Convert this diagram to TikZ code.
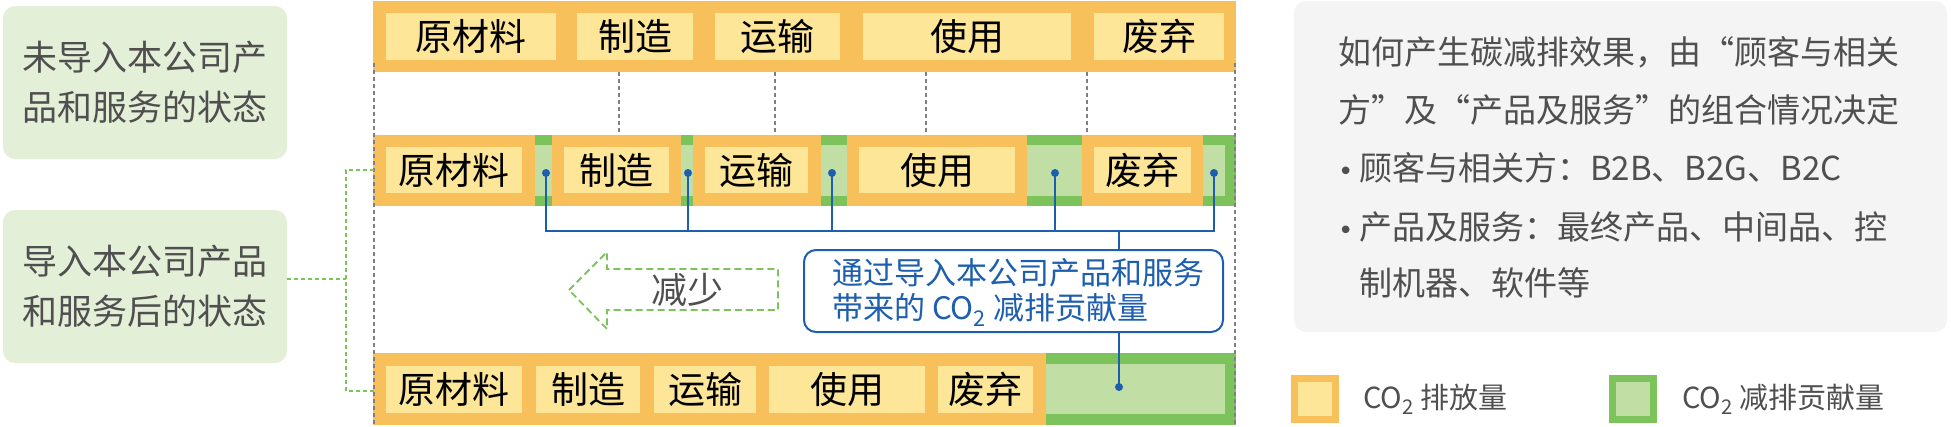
\documentclass[tikz,border=0pt]{standalone}
\usepackage{fontspec}
\setmainfont{Noto Sans CJK SC}
\newfontfamily\dvfont{DejaVu Sans}
\definecolor{barorange}{HTML}{F8C05A}
\definecolor{baryellow}{HTML}{FDE697}
\definecolor{dgreen}{HTML}{7DC35B}
\definecolor{lgreen}{HTML}{C1DEA5}
\definecolor{boxgreen}{HTML}{E4EFD8}
\definecolor{boxgray}{HTML}{F4F4F4}
\definecolor{cblue}{HTML}{1D5FAE}
\definecolor{tgray}{HTML}{4F4F4F}
\definecolor{dgray}{HTML}{808080}
\tikzset{
  ybox/.style={fill=baryellow, inner sep=0pt, outer sep=0pt, font=\fontsize{37}{40}\selectfont, text=black},
  dotnode/.style={circle, fill=cblue, inner sep=0pt, minimum size=8pt},
  bline/.style={draw=cblue, line width=2.2pt},
  callout/.style={draw=cblue, line width=2pt, rounded corners=12pt, fill=white, inner sep=0pt},
  ctext/.style={text=cblue, font=\fontsize{31}{35}\selectfont, align=left, inner sep=0pt},
  gdash/.style={draw=dgray, line width=1.3pt, dash pattern=on 4pt off 3pt},
  gcon/.style={draw=dgreen, line width=1.3pt, dash pattern=on 4pt off 3pt},
  garrow/.style={draw=dgreen, line width=1.8pt, dash pattern=on 7pt off 4pt},
  lbox/.style={fill=boxgreen, rounded corners=12pt, inner sep=0pt, text=tgray, font=\fontsize{35}{50}\selectfont, align=left},
  rbox/.style={fill=boxgray, rounded corners=12pt, inner sep=0pt},
  rtext/.style={text=tgray, font=\fontsize{33}{40}\selectfont, inner sep=0pt, anchor=west},
  legsq/.style={line width=7pt, minimum size=41pt, inner sep=0pt},
  legt/.style={text=tgray, font=\fontsize{29}{34}\selectfont, inner sep=0pt, anchor=west},
}
\newcommand\seg[6]{\node[ybox, minimum width={(#4)-(#2)}, minimum height={(#5)-(#3)}] (#1) at ({((#2)+(#4))/2},{((#3)+(#5))/2}) {#6};}
\newcommand\mybul{\makebox[21pt][l]{{\dvfont\fontsize{26}{30}\selectfont •}}}
\begin{document}
\begin{tikzpicture}[x=1pt,y=-1pt]
\useasboundingbox (0,0) rectangle (1951,426);
% left boxes
\node[lbox, minimum width=284pt, minimum height=153pt] (L1) at (145,82.5) {未导入本公司产\\品和服务的状态};
\node[lbox, minimum width=284pt, minimum height=153pt] (L2) at (145,286.5) {导入本公司产品\\和服务后的状态};
% top bar
\fill[barorange] (373,1) rectangle (1236,72);
\seg{t1}{386}{13}{556}{60}{原材料}
\seg{t2}{577}{13}{693}{60}{制造}
\seg{t3}{715}{13}{840}{60}{运输}
\seg{t4}{863}{13}{1071}{60}{使用}
\seg{t5}{1094}{13}{1224}{60}{废弃}
% middle bar
\fill[dgreen] (373,135) rectangle (1236,206);
\fill[lgreen] (373,145) rectangle (1225,196);
\fill[barorange] (373,135) rectangle (535,206);
\fill[barorange] (552,135) rectangle (681,206);
\fill[barorange] (693,135) rectangle (821,206);
\fill[barorange] (847,135) rectangle (1027,206);
\fill[barorange] (1082,135) rectangle (1203,206);
\seg{m1}{386}{147}{522}{193}{原材料}
\seg{m2}{564}{147}{669}{193}{制造}
\seg{m3}{705}{147}{808}{193}{运输}
\seg{m4}{859}{147}{1015}{193}{使用}
\seg{m5}{1094}{147}{1191}{193}{废弃}
% bottom bar
\fill[barorange] (373,353) rectangle (1046,425);
\fill[dgreen] (1046,353) rectangle (1236,425);
\fill[lgreen] (1046,364) rectangle (1225,414);
\seg{b1}{386}{366}{522}{413}{原材料}
\seg{b2}{536}{366}{640}{413}{制造}
\seg{b3}{654}{366}{756}{413}{运输}
\seg{b4}{769}{366}{925}{413}{使用}
\seg{b5}{938}{366}{1033}{413}{废弃}
% gray dashed guides
\draw[gdash] (374,63) -- (374,426);
\draw[gdash] (1235,63) -- (1235,426);
\draw[gdash] (619,72) -- (619,135);
\draw[gdash] (775,72) -- (775,135);
\draw[gdash] (926,72) -- (926,135);
\draw[gdash] (1087,72) -- (1087,135);
% green dashed connector from left box
\coordinate (gj) at (346,279);
\draw[gcon] (L2.east |- gj) -- (gj);
\draw[gcon] (374,170) -- (346,170) -- (346,391) -- (374,391);
% reduction arrow
\draw[garrow] (569,290) -- (607,252) -- (607,269) -- (778,269) -- (778,310) -- (607,310) -- (607,329) -- cycle;
\node[text=tgray, font=\fontsize{36}{40}\selectfont, inner sep=0pt] (red) at (687,290) {减少};
% blue connectors
\node[dotnode] (d1) at (546,173) {};
\node[dotnode] (d2) at (688,173) {};
\node[dotnode] (d3) at (832,173) {};
\node[dotnode] (d4) at (1055,173) {};
\node[dotnode] (d5) at (1214,173) {};
\node[dotnode] (d6) at (1119,387) {};
\coordinate (bus) at (0,231);
\draw[bline] (d1.center) -- (d1.center |- bus) -- (d5.center |- bus) -- (d5.center);
\draw[bline] (d2.center) -- (d2.center |- bus);
\draw[bline] (d3.center) -- (d3.center |- bus);
\draw[bline] (d4.center) -- (d4.center |- bus);
\node[callout, minimum width=419pt, minimum height=82pt] (co) at (1013.5,291) {};
\node[ctext, anchor=west] (cot) at (832,292.5) {通过导入本公司产品和服务\\带来的 CO\textsubscript{2} 减排贡献量};
\draw[bline] (co.north -| d6.center) -- (d6.center |- bus);
\draw[bline] (d6.center) -- (d6.center |- co.south);
% right box
\node[rbox, minimum width=653pt, minimum height=331pt] (R) at (1620.5,166.5) {};
\node[rtext] (r1) at (1338,52) {如何产生碳减排效果，由“顾客与相关};
\node[rtext] (r2) at (1338,110) {方”及“产品及服务”的组合情况决定};
\node[rtext] (r3) at (1338,168) {\mybul 顾客与相关方：B2B、B2G、B2C};
\node[rtext] (r4) at (1338,227) {\mybul 产品及服务：最终产品、中间品、控};
\node[rtext] (r5) at (1359,283) {制机器、软件等};
% legend
\node[legsq, draw=barorange, fill=baryellow] (lg1) at (1315,399) {};
\node[legt] (lt1) at (1363,399) {CO\textsubscript{2} 排放量};
\node[legsq, draw=dgreen, fill=lgreen] (lg2) at (1633,399) {};
\node[legt] (lt2) at (1682,399) {CO\textsubscript{2} 减排贡献量};
\end{tikzpicture}
\end{document}
